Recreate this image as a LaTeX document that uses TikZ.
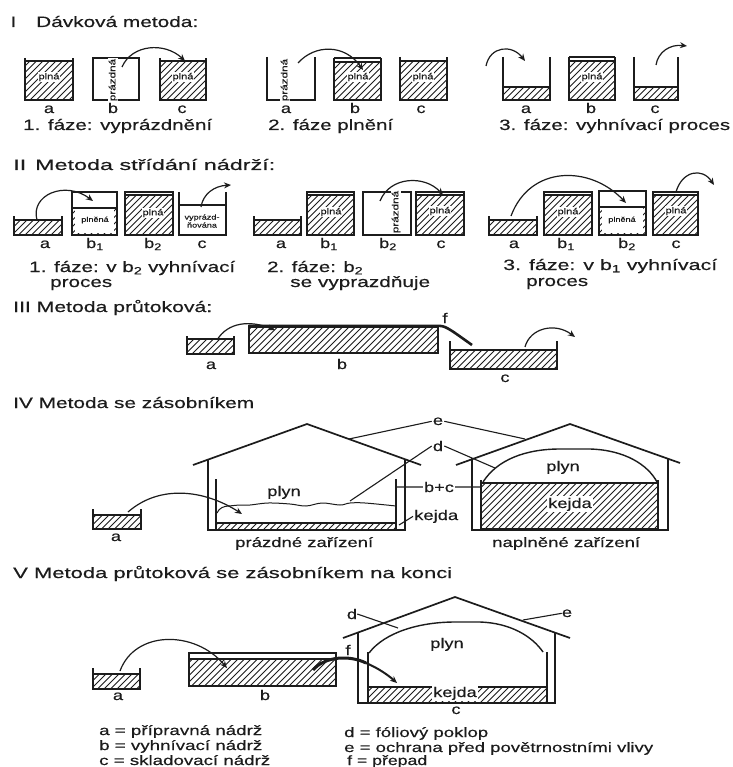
\documentclass[tikz,border=0pt]{standalone}
\usepackage{graphicx}
\usepackage{fontspec}
\setmainfont[FakeStretch=1.3,FakeBold=0.35]{Liberation Sans}
\usetikzlibrary{arrows.meta}
\definecolor{ink}{HTML}{1c1c1c}
\tikzset{
  wall/.style={draw=ink,line width=1.7pt,line join=miter},
  hatchline/.style={draw=ink,line width=1pt},
  flow/.style={draw=ink,line width=1.2pt,-{Stealth[length=7pt,width=6pt]}},
  heavyflow/.style={draw=ink,line width=3pt},
  leader/.style={draw=ink,line width=1.1pt},
  lab/.style={text=ink,anchor=base,inner sep=0pt,font=\fontsize{14}{14}\selectfont},
  capline/.style={text=ink,anchor=base west,inner sep=0pt},
  tag/.style={text=ink,inner sep=.8pt,fill=white,font=\fontsize{8.5}{9}\selectfont,align=center},
  vtag/.style={tag,rotate=90,font=\fontsize{9}{9}\selectfont},
}
% 45-degree hatching: x1 y1 x2 y2
\newcommand{\hatchbox}[4]{%
  \begin{scope}
    \clip (#1,#2) rectangle (#3,#4);
    \pgfmathtruncatemacro{\hfirst}{(#1+#2)/6.5}
    \pgfmathtruncatemacro{\hlast}{(#3+#4)/6.5+1}
    \foreach \k in {\hfirst,...,\hlast}{%
      \pgfmathsetmacro{\hs}{\k*6.5}
      \draw[hatchline] ({\hs-#4},#4) -- ({\hs-#2},#2);}
  \end{scope}}
% open tank: x1 x2 wall-top fill-top bottom
\newcommand{\opentank}[5]{%
  \hatchbox{#1}{#4}{#2}{#5}
  \draw[wall] (#1,#3) -- (#1,#5) -- (#2,#5) -- (#2,#3);
  \draw[wall,line width=1.2pt] (#1,#4) -- (#2,#4);}
% closed tank: x1 x2 top fill-top bottom
\newcommand{\closedtank}[5]{%
  \hatchbox{#1}{#4}{#2}{#5}
  \draw[wall] (#1,#3) rectangle (#2,#5);
  \draw[wall,line width=1.2pt] (#1,#4) -- (#2,#4);}
% empty closed tank
\newcommand{\emptytank}[4]{\draw[wall] (#1,#3) rectangle (#2,#4);}
% a text line fitted to a width: name, x, baseline, width, size, text
\newcommand{\fitline}[6]{\node[capline] (#1) at (#2,#3) {\resizebox{#4pt}{\height}{\fontsize{#5}{#5}\selectfont #6}};}
% flow curve with named end points
\newcommand{\flowcurve}[6]{%
  \coordinate (#1s) at #2; \coordinate (#1t) at #5;
  \draw[#6] (#1s) .. controls #3 and #4 .. (#1t);}
\newcommand{\sub}[1]{\textsubscript{#1}}
\begin{document}
\begin{tikzpicture}[x=1pt,y=-1pt]
\useasboundingbox (0,0) rectangle (732,767);
\fill[white] (0,0) rectangle (732,767);

%% I
\node[capline,font=\fontsize{15}{15}\selectfont] (t1n) at (10.5,27) {I};
\fitline{t1}{36}{27}{162}{15}{Dávková metoda:}
\opentank{25}{73}{58}{61}{100}
\node[tag] (i1p) at (49,77) {plná};
\emptytank{93}{139}{58}{100}
\node[vtag] (i1e) at (113,80) {prázdná};
\opentank{160}{206}{58}{61}{100}
\node[tag] (i1q) at (183,77) {plná};
\node[lab] (i1a) at (49,113) {a};
\node[lab] (i1b) at (113,113) {b};
\node[lab] (i1c) at (182,113) {c};
\fitline{c1}{23}{130}{189}{15}{1. fáze: vyprázdnění}
\flowcurve{fa}{(122,67)}{(132,44)}{(165,42)}{(185,61)}{flow}

\opentank{334}{381}{58}{62}{100}
\draw[wall] (334,58) -- (381,58);
\node[tag] (i2p) at (358,77) {plná};
\draw[wall] (267,57) -- (267,100) -- (315,100) -- (315,57);
\node[vtag] (i2e) at (285,80) {prázdná};
\opentank{400}{447}{57}{61}{100}
\node[tag] (i2q) at (423,77) {plná};
\node[lab] (i2a) at (286,113) {a};
\node[lab] (i2b) at (355,113) {b};
\node[lab] (i2c) at (421,113) {c};
\fitline{c2}{268}{130}{125}{15}{2. fáze plnění}
\flowcurve{fb}{(298,63)}{(315,44)}{(345,44)}{(363,70)}{flow}

\opentank{503}{550}{57}{87}{100}
\opentank{569}{615}{57}{61}{100}
\draw[wall] (569,57) -- (615,57);
\node[tag] (i3p) at (592,77) {plná};
\opentank{634}{678}{57}{87}{100}
\node[lab] (i3a) at (526,113) {a};
\node[lab] (i3b) at (591,113) {b};
\node[lab] (i3c) at (655,113) {c};
\fitline{c3}{499}{130}{231}{15}{3. fáze: vyhnívací proces}
\flowcurve{fc}{(486,66)}{(490,46)}{(512,44)}{(525,61)}{flow}
\flowcurve{fd}{(656,65)}{(658,52)}{(670,44)}{(687,46)}{flow}

%% II
\fitline{t2}{13}{170}{262}{15}{II\hspace{.5em}Metoda střídání nádrží:}
\opentank{14}{62}{216}{220}{235}
\closedtank{72}{117}{192}{208}{235}
\fill[white] (75,209.5) rectangle (114,233);
\node[tag,font=\fontsize{7}{7}\selectfont] (ii1f) at (95,220) {plněná};
\closedtank{125}{173}{192}{195}{235}
\node[tag] (ii1p) at (153,213) {plná};
\draw[wall] (179,192) -- (179,235) -- (226,235) -- (226,192);
\draw[wall,line width=1.2pt] (179,205) -- (226,205);
\node[tag,font=\fontsize{7}{8}\selectfont,inner sep=0pt] (ii1v) at (202,221) {vyprázd-\\ňována};
\node[lab] (ii1a) at (45,248) {a};
\node[lab] (ii1b) at (95,248) {b\sub{1}};
\node[lab] (ii1d) at (153,248) {b\sub{2}};
\node[lab] (ii1c) at (202,248) {c};
\fitline{c4}{29}{272}{206}{15}{1. fáze: v b\sub{2} vyhnívací}
\fitline{c4b}{50}{287}{62}{15}{proces}
\flowcurve{fe}{(37,220)}{(30,195)}{(65,180)}{(93,201)}{flow}
\flowcurve{ff}{(201,207)}{(203,194)}{(214,186)}{(231,185)}{flow}

\opentank{254}{301}{216}{220}{235}
\closedtank{307}{354}{192}{195}{235}
\node[tag] (ii2p) at (331,212) {plná};
\emptytank{363}{411}{192}{235}
\node[vtag] (ii2e) at (396,212) {prázdná};
\closedtank{416}{464}{192}{195}{235}
\node[tag] (ii2q) at (440,211) {plná};
\node[lab] (ii2a) at (281,248) {a};
\node[lab] (ii2b) at (329,248) {b\sub{1}};
\node[lab] (ii2d) at (388,248) {b\sub{2}};
\node[lab] (ii2c) at (441,248) {c};
\fitline{c5}{267}{272}{96}{15}{2. fáze: b\sub{2}}
\fitline{c5b}{290}{287}{140}{15}{se vyprazdňuje}
\flowcurve{fg}{(380,201)}{(390,176)}{(425,175)}{(443,195)}{flow}

\opentank{489}{537}{216}{220}{235}
\closedtank{544}{592}{192}{195}{235}
\node[tag] (ii3p) at (568,212) {plná};
\closedtank{599}{646}{191}{207}{235}
\fill[white] (602,208.5) rectangle (643,233);
\node[tag,font=\fontsize{7}{7}\selectfont] (ii3f) at (622,220) {plněná};
\closedtank{653}{698}{192}{195}{235}
\node[tag] (ii3q) at (676,211) {plná};
\node[lab] (ii3a) at (514,248) {a};
\node[lab] (ii3b) at (566,248) {b\sub{1}};
\node[lab] (ii3d) at (627,248) {b\sub{2}};
\node[lab] (ii3c) at (676,248) {c};
\fitline{c6}{503}{270}{214}{15}{3. fáze: v b\sub{1} vyhnívací}
\fitline{c6b}{526}{286}{62}{15}{proces}
\flowcurve{fh}{(511,216)}{(530,165)}{(590,165)}{(626,203)}{flow}
\flowcurve{fi}{(676,192)}{(682,171)}{(702,167)}{(714,185)}{flow}

%% III
\fitline{t3}{13}{312}{199}{15}{III Metoda průtoková:}
\opentank{187}{234}{336}{339}{354}
\closedtank{249}{438}{326}{327}{353}
\opentank{450}{557}{341}{350}{369}
\node[lab] (iiia) at (211,369) {a};
\node[lab] (iiib) at (342,369) {b};
\node[lab] (iiic) at (505,382) {c};
\node[lab] (iiif) at (445,323) {f};
\flowcurve{fj}{(217,340)}{(228,322)}{(250,320)}{(275,330)}{flow}
\coordinate (ovA) at (249,326);
\coordinate (ovB) at (472,345);
\draw[draw=ink,line width=2.6pt] (ovA) -- (436,326) .. controls (445,325) and (448,328) .. (ovB);
\flowcurve{fk}{(525,347)}{(530,328)}{(555,322)}{(575,337)}{flow}

%% IV
\fitline{t4}{13}{408}{241}{15}{IV Metoda se zásobníkem}
\opentank{93}{141}{509}{515}{529}
\node[lab] (iva) at (116,541) {a};
% empty house
\coordinate (hA) at (307,424);
\coordinate (hB) at (349,439);
\draw[wall] (193,465) -- (hA) -- (421,465);
\draw[wall] (208,460) -- (208,530) -- (405,530) -- (405,460);
\hatchbox{216}{523}{396}{529}
\draw[wall,line width=1.2pt] (216,523) -- (396,523);
\draw[wall] (216,479) -- (216,530);
\draw[wall] (396,479) -- (396,530);
\coordinate (foilD) at (350,501);
\draw[draw=ink,line width=1pt] plot[smooth,tension=.6] coordinates {(229,506) (240,505) (250,505) (268,503) (290,504) (306,506) (322,503) (340,505) (350,503) (365,503) (396,506)};
\draw[draw=ink,line width=1pt] (217,513) .. controls (219,508) and (224,506) .. (229,506);
\node[lab] (ivp) at (284,496) {plyn};
\fitline{c7}{235}{547}{138}{13.5}{prázdné zařízení}
\flowcurve{fl}{(128,512)}{(160,484)}{(205,490)}{(242,514)}{flow}
% labels and leaders
\node[lab] (ive) at (438,425) {e};
\node[lab] (ivd) at (438,451) {d};
\node[lab] (ivbc) at (439,492) {b+c};
\node[capline,font=\fontsize{14}{14}\selectfont] (ivk) at (414,520) {\resizebox{44pt}{\height}{kejda}};
\coordinate (eR) at (525,439);
\coordinate (dR) at (495,468);
\coordinate (bL) at (397,487);
\coordinate (bR) at (481,487);
\coordinate (kL) at (399,525);
\draw[leader] (hB) -- ([xshift=-1pt]ive.west);
\draw[leader] ([xshift=1pt]ive.east) -- (eR);
\draw[leader] (foilD) -- ([xshift=-1pt]ivd.west);
\draw[leader] ([xshift=1pt]ivd.east) -- (dR);
\draw[leader] (bL) -- ([xshift=-1pt]ivbc.west);
\draw[leader] ([xshift=1pt]ivbc.east) -- (bR);
\draw[leader] (kL) -- ([xshift=-1pt]ivk.west);
% full house
\draw[wall] (456,465) -- (570,424) -- (680,463);
\draw[wall] (472,458) -- (472,530) -- (668,530) -- (668,458);
\hatchbox{481}{483}{658}{528}
\draw[wall,line width=2.2pt] (481,480) -- (481,529) -- (658,529) -- (658,480);
\draw[wall,line width=1.2pt] (481,483) -- (658,483);
\draw[draw=ink,line width=1.4pt] (483,482) .. controls (497,460) and (525,449) .. (560,449) -- (590,449) .. controls (625,450) and (648,465) .. (657,482);
\node[lab] (ivq) at (563,471) {plyn};
\node[lab,fill=white,inner sep=1.5pt] (ivj) at (570,508) {kejda};
\fitline{c8}{492}{547}{148}{13.5}{naplněné zařízení}

%% V
\fitline{t5}{13}{578}{439}{15}{V Metoda průtoková se zásobníkem na konci}
\opentank{93}{140}{668}{674}{689}
\node[lab] (va) at (118,700) {a};
\closedtank{189}{336}{653}{659}{686}
\node[lab] (vb) at (265,700) {b};
\flowcurve{fm}{(120,671)}{(135,630)}{(195,630)}{(227,668)}{flow}
% house
\coordinate (vR) at (523,620);
\coordinate (vD) at (398,628);
\draw[wall] (343,638) -- (455,597) -- (570,638);
\draw[wall] (358,632) -- (358,703) -- (555,703) -- (555,632);
\hatchbox{368}{687}{547}{703}
\draw[wall,line width=2.2pt] (368,652) -- (368,703) -- (547,703) -- (547,652);
\draw[wall,line width=1.2pt] (368,687) -- (547,687);
\draw[draw=ink,line width=1.4pt] (369,653) .. controls (385,632) and (420,622) .. (455,622) -- (480,622) .. controls (510,623) and (532,636) .. (543,652);
\node[lab] (vp) at (447,648) {plyn};
\node[lab,fill=white,inner sep=1pt] (vk) at (455,697) {kejda};
\node[lab] (vc) at (456,714) {c};
\node[lab] (vd) at (352,619) {d};
\node[lab] (ve) at (567,617) {e};
\node[lab] (vf) at (348,655) {f};
\draw[leader] (vd.east) -- (vD);
\draw[leader] (ve.west) -- (vR);
\coordinate (fnm) at (366,663);
\flowcurve{fn}{(313,670)}{(325,656)}{(350,655)}{(366,663)}{heavyflow}
\draw[flow,line width=2pt] (fnm) .. controls (378,668) and (388,675) .. (397,683);

%% legend
\fitline{la}{99}{735}{163}{13.5}{a = přípravná nádrž}
\fitline{lb}{99}{750}{163}{13.5}{b = vyhnívací nádrž}
\fitline{lc}{99}{765}{171}{13.5}{c = skladovací nádrž}
\fitline{ld}{344}{737}{144}{13.5}{d = fóliový poklop}
\fitline{le}{344}{752}{309}{13.5}{e = ochrana před povětrnostními vlivy}
\fitline{lf}{347}{765}{80}{13.5}{f = přepad}
\end{tikzpicture}
\end{document}
